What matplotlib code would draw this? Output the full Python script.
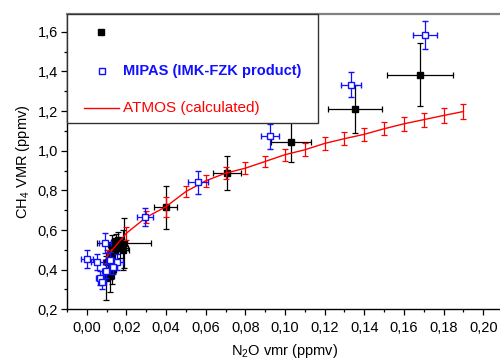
import matplotlib
matplotlib.use("Agg")
import matplotlib.pyplot as plt
from matplotlib.ticker import MultipleLocator, FuncFormatter
from matplotlib.patches import Rectangle
from matplotlib.lines import Line2D

plt.rcParams['font.family'] = ['Liberation Sans', 'DejaVu Sans']
plt.rcParams['mathtext.default'] = 'regular'

# Black squares (correlative measurement)
blk_x    = [0.168, 0.1353, 0.1029, 0.0706, 0.0398, 0.0187, 0.0158, 0.0128, 0.0143, 0.0168, 0.0118, 0.0107, 0.0128, 0.0098, 0.0118, 0.0184, 0.0150]
blk_y    = [1.384, 1.211, 1.044, 0.887, 0.715, 0.535, 0.550, 0.525, 0.500, 0.510, 0.474, 0.440, 0.400, 0.358, 0.368, 0.500, 0.540]
blk_xerr = [0.0168, 0.0135, 0.0102, 0.0070, 0.0059, 0.0137, 0.003, 0.002, 0.003, 0.004, 0.002, 0.002, 0.002, 0.002, 0.002, 0.003, 0.003]
blk_yerr = [0.160, 0.121, 0.103, 0.086, 0.109, 0.126, 0.040, 0.050, 0.060, 0.050, 0.060, 0.060, 0.070, 0.110, 0.080, 0.100, 0.040]

# MIPAS (IMK-FZK product)
mip_x    = [0.1706, 0.1331, 0.0924, 0.0563, 0.0294, 0.0003, 0.0050, 0.0067, 0.0079, 0.0092, 0.0097, 0.0117, 0.0154, 0.0134]
mip_y    = [1.583, 1.333, 1.072, 0.840, 0.665, 0.454, 0.439, 0.360, 0.336, 0.533, 0.395, 0.449, 0.440, 0.412]
mip_xerr = [0.0062, 0.0051, 0.0045, 0.0050, 0.0040, 0.003, 0.003, 0.002, 0.002, 0.003, 0.002, 0.002, 0.003, 0.002]
mip_yerr = [0.071, 0.062, 0.061, 0.056, 0.047, 0.044, 0.040, 0.035, 0.035, 0.050, 0.035, 0.040, 0.040, 0.035]

# ATMOS (calculated)
atm_x = [0.01, 0.02, 0.03, 0.04, 0.05, 0.06, 0.07, 0.08, 0.09, 0.10,
         0.11, 0.12, 0.13, 0.14, 0.15, 0.16, 0.17, 0.18, 0.19]
atm_y = [0.465, 0.584, 0.664, 0.718, 0.794, 0.848, 0.887, 0.912, 0.946, 0.980,
         1.005, 1.037, 1.061, 1.083, 1.111, 1.136, 1.157, 1.178, 1.198]
atm_yerr = [0.033, 0.032, 0.030, 0.050, 0.028, 0.030, 0.030, 0.030, 0.030, 0.030,
            0.032, 0.032, 0.033, 0.033, 0.034, 0.035, 0.036, 0.037, 0.039]

fig = plt.figure(figsize=(5.0, 3.61), dpi=100)
ax = fig.add_axes([0.1338, 0.1432, 0.8724, 0.818])

ax.errorbar(blk_x, blk_y, xerr=blk_xerr, yerr=blk_yerr, fmt='s', color='black',
            ms=5, mec='black', mfc='black', elinewidth=0.9, capsize=2.3, capthick=0.9, zorder=3)
ax.errorbar(atm_x, atm_y, yerr=atm_yerr, fmt='-', color='#ff0000', lw=1.0,
            elinewidth=0.9, capsize=2.3, capthick=0.9, zorder=4)
ax.errorbar(mip_x, mip_y, xerr=mip_xerr, yerr=mip_yerr, fmt='s', color='#1010ff',
            ms=4.3, mec='#1010ff', mfc='white', mew=1.0, elinewidth=0.9, capsize=2.3,
            capthick=0.9, zorder=5)

ax.set_xlim(-0.01, 0.21)
ax.set_ylim(0.2, 1.69)
ax.xaxis.set_major_locator(MultipleLocator(0.02))
ax.xaxis.set_minor_locator(MultipleLocator(0.01))
ax.yaxis.set_major_locator(MultipleLocator(0.2))
ax.yaxis.set_minor_locator(MultipleLocator(0.1))
ax.xaxis.set_major_formatter(FuncFormatter(lambda v, p: f"{v:.2f}".replace('.', ',').replace('-0,00', '0,00')))
ax.yaxis.set_major_formatter(FuncFormatter(lambda v, p: f"{v:.1f}".replace('.', ',')))
ax.tick_params(which='major', direction='out', length=4.5, width=0.9, labelsize=10.5, pad=2)
ax.tick_params(which='minor', direction='out', length=2.5, width=0.9)
ax.tick_params(axis='x', pad=4)

for s in ['left', 'bottom']:
    ax.spines[s].set_linewidth(1.0)
    ax.spines[s].set_color('black')
ax.spines['top'].set_color('#808080')
ax.spines['top'].set_linewidth(1.6)
ax.spines['right'].set_visible(False)

ax.set_xlabel('N$_2$O vmr (ppmv)', fontsize=10.5, labelpad=5)
ax.set_ylabel('CH$_4$ VMR (ppmv)', fontsize=10.5, labelpad=4)

# Legend box drawn in axes coordinates
ax.add_patch(Rectangle((0.0, 0.632), 0.576, 0.368, transform=ax.transAxes,
                       facecolor='white', edgecolor='#333333', lw=1.0, zorder=10, clip_on=False))
ax.add_line(Line2D([0.0784], [0.938], transform=ax.transAxes, marker='s', ms=5,
                   color='black', ls='none', zorder=11))
ax.add_line(Line2D([0.080], [0.808], transform=ax.transAxes, marker='s', ms=4.3,
                   mfc='white', mec='#1010ff', mew=1.0, ls='none', zorder=11))
ax.text(0.129, 0.808, 'MIPAS (IMK-FZK product)', transform=ax.transAxes, color='#1010ff',
        fontsize=10.5, fontweight='bold', va='center', ha='left', zorder=11)
ax.add_line(Line2D([0.039, 0.119], [0.681, 0.681], transform=ax.transAxes,
                   color='#ff0000', lw=1.0, zorder=11))
ax.text(0.129, 0.681, 'ATMOS (calculated)', transform=ax.transAxes, color='#ff0000',
        fontsize=11, va='center', ha='left', zorder=11)

fig.savefig('out.png', dpi=100)
